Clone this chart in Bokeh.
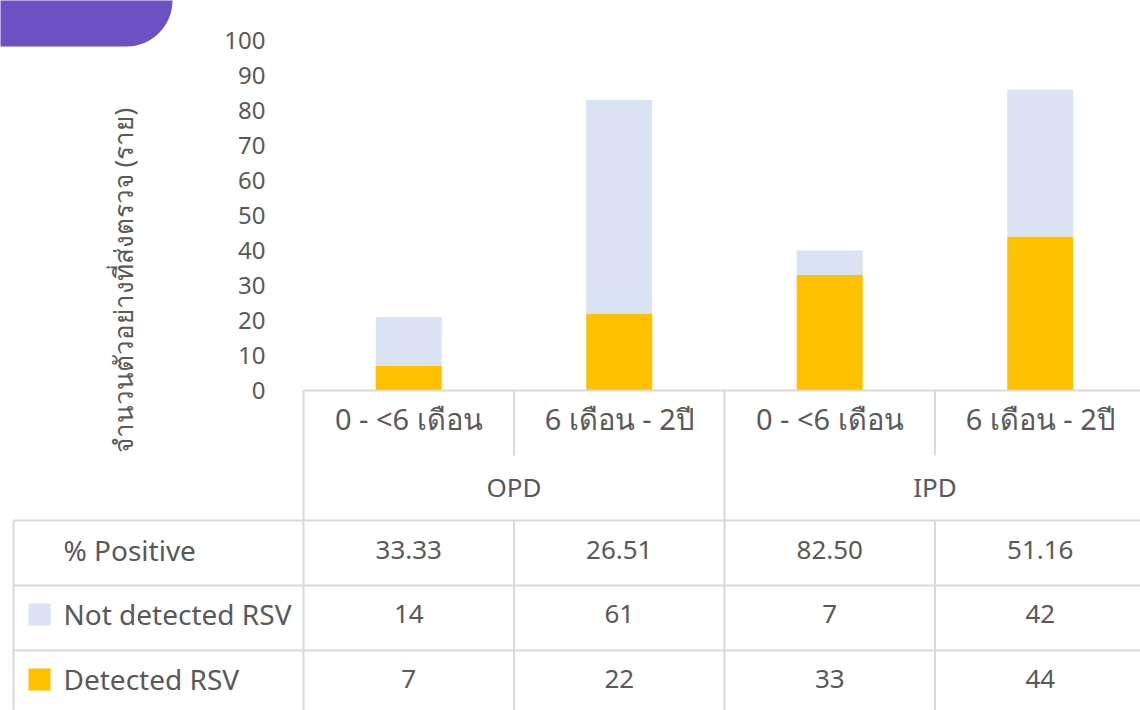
import math
from bokeh.plotting import figure
from bokeh.models import Range1d, LinearAxis, FixedTicker, ColumnDataSource, BoxAnnotation, Label
from bokeh.embed import file_html
from bokeh.resources import INLINE
from bokeh.core.properties import value

# ---------------- data ----------------
categories = ["0 - <6 เดือน", "6 เดือน - 2ปี", "0 - <6 เดือน", "6 เดือน - 2ปี"]
groups = ["OPD", "IPD"]
not_detected = [14, 61, 7, 42]
detected = [7, 22, 33, 44]
pct_positive = [33.33, 26.51, 82.50, 51.16]
series_names = ["Not detected RSV", "Detected RSV"]
row_label_pct = "% Positive"
y_ticks = [0, 10, 20, 30, 40, 50, 60, 70, 80, 90, 100]
y_title = "จำนวนตัวอย่างที่ส่งตรวจ (ราย)"

# ---------------- styles ----------------
C_NOT = "#DAE3F3"
C_DET = "#FFC000"
C_GRID = "#D9D9D9"
C_TEXT = "#595959"
C_PURPLE = "#6A52C2"
FONT = "Noto Sans"
FS = "26px"
FS_ROWLAB = "28px"
FS_CAT = "29px"
FS_TICK = "24px"

W, H = 1140, 710
# layout helpers: picture px -> data coordinates
def dx(px):
    return (px - 303) / 210.5

def dy(py):
    return (390 - py) / 3.5

p = figure(width=W, height=H, output_backend="svg", toolbar_location=None,
           x_range=Range1d(dx(0), dx(W)), y_range=Range1d(dy(H), dy(0)),
           min_border=0, outline_line_color=None, x_axis_type=None, y_axis_type=None)
p.grid.visible = False
p.background_fill_color = "white"
p.border_fill_color = "white"

n = len(categories)
xc = [i + 0.5 for i in range(n)]
src = ColumnDataSource(dict(x=xc, det=detected, notdet=not_detected))
p.vbar_stack(["det", "notdet"], x="x", width=66 / 210.5, source=src,
             color=[C_DET, C_NOT], line_color=None)

# y axis
yax = LinearAxis(fixed_location=dx(269), bounds=(0, 100), ticker=FixedTicker(ticks=y_ticks),
                 axis_line_color=None, major_tick_line_color=None, minor_tick_line_color=None,
                 major_tick_out=0, major_tick_in=0, major_label_standoff=4,
                 major_label_text_font=FONT, major_label_text_font_size=FS_TICK,
                 major_label_text_color=C_TEXT)
p.add_layout(yax, "left")

p.add_layout(Label(x=dx(122), y=dy(280), text=y_title, angle=math.pi / 2,
                   text_align="center", text_baseline="middle", text_font=FONT,
                   text_font_size=FS, text_color=C_TEXT))

# table grid
row_top = [dy(520), dy(585), dy(650)]
hx0 = [0, dx(13), dx(13), dx(13)]
hy = [0] + row_top
p.segment(x0=hx0, y0=hy, x1=[dx(1200)] * 4, y1=hy, line_color=C_GRID, line_width=2)
vx = [0, 1, 2, 3, 4, 1, 3, dx(13)]
vy0 = [0, 0, 0, 0, 0, row_top[0], row_top[0], row_top[0]]
vy1 = [dy(720), dy(455), dy(720), dy(455), dy(720), dy(720), dy(720), dy(720)]
p.segment(x0=vx, y0=vy0, x1=vx, y1=vy1, line_color=C_GRID, line_width=2)

# category header text
p.text(x=xc, y=[dy(418)] * n, text=categories, text_align="center", text_baseline="middle",
       text_font=value(FONT), text_font_size=FS_CAT, text_color=C_TEXT)
p.text(x=[1, 3], y=[dy(486)] * 2, text=groups, text_align="center", text_baseline="middle",
       text_font=value(FONT), text_font_size=FS, text_color=C_TEXT)

# table rows
rows = [[f"{v:.2f}" for v in pct_positive], [str(v) for v in not_detected], [str(v) for v in detected]]
row_y = [dy(549), dy(613), dy(678)]
for vals, ry in zip(rows, row_y):
    p.text(x=xc, y=[ry] * n, text=vals, text_align="center", text_baseline="middle",
           text_font=value(FONT), text_font_size=FS, text_color=C_TEXT)
p.text(x=[dx(63)] * 3, y=row_y, text=[row_label_pct] + series_names, text_align="left",
       text_baseline="middle", text_font=value(FONT), text_font_size=FS_ROWLAB, text_color=C_TEXT)
p.scatter(x=[dx(39)] * 2, y=[dy(614), dy(679)], marker="square", size=22,
          color=[C_NOT, C_DET], line_color=None)

# decorative purple tab
p.add_layout(BoxAnnotation(left=dx(-80), right=dx(172), bottom=dy(46), top=dy(-80),
                           fill_color=C_PURPLE, fill_alpha=1, line_color=None,
                           border_radius=(0, 0, 46, 0)))

open("out.html", "w").write(file_html(p, INLINE))
